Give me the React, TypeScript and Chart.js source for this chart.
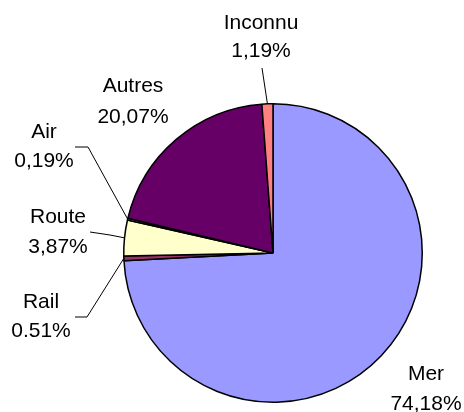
import React, { useEffect, useRef } from "react";
import { Chart, registerables } from "chart.js";

Chart.register(...registerables);

const categories = ["Mer", "Rail", "Route", "Air", "Autres", "Inconnu"];
const shares = [74.18, 0.51, 3.87, 0.19, 20.07, 1.19];
const valueLabels = ["74,18%", "0.51%", "3,87%", "0,19%", "20,07%", "1,19%"];
const colors = ["#9999FF", "#993366", "#FFFFCC", "#CCFFFF", "#660066", "#FF8080"];

// label layout, relative to the pie centre (px)
const labelDx = [153, -232, -215, -229, -140, -12];
const labelDy = [127, 55, -30, -115, -161, -224];
const lineGap = [30, 29, 30, 29, 31, 28];
const leaders: number[][][] = [
  [],
  [[-186, 64], [-198, 64]],
  [[-163, -18], [-183, -21]],
  [[-185, -106], [-198, -106]],
  [],
  [[-11, -185]],
];

const labelPlugin = {
  id: "pieLabels",
  afterDraw(chart: any) {
    const ctx = chart.ctx;
    const meta = chart.getDatasetMeta(0);
    ctx.save();
    ctx.font = "21px 'Liberation Sans', Arial, sans-serif";
    ctx.fillStyle = "#000";
    ctx.textAlign = "center";
    ctx.textBaseline = "alphabetic";
    ctx.strokeStyle = "#000";
    ctx.lineWidth = 1;
    meta.data.forEach((arc: any, i: number) => {
      const { x, y, startAngle, endAngle, outerRadius } = arc.getProps(
        ["x", "y", "startAngle", "endAngle", "outerRadius"],
        true
      );
      const mid = (startAngle + endAngle) / 2;
      const pts = leaders[i];
      if (pts.length) {
        ctx.beginPath();
        ctx.moveTo(x + Math.cos(mid) * outerRadius, y + Math.sin(mid) * outerRadius);
        pts.forEach((p) => ctx.lineTo(x + p[0], y + p[1]));
        ctx.stroke();
      }
      const tx = x + labelDx[i];
      const ty = y + labelDy[i];
      ctx.fillText(categories[i], tx, ty);
      ctx.fillText(valueLabels[i], tx, ty + lineGap[i]);
    });
    ctx.restore();
  },
};

export default function App() {
  const ref = useRef<HTMLCanvasElement>(null);
  useEffect(() => {
    if (!ref.current) return;
    const chart = new Chart(ref.current, {
      type: "pie",
      data: {
        labels: categories,
        datasets: [
          {
            data: shares,
            backgroundColor: colors,
            borderColor: "#000",
            borderWidth: 1.5,
          },
        ],
      },
      options: {
        responsive: false,
        animation: false,
        layout: { padding: { left: 123, right: 41, top: 103, bottom: 9 } },
        plugins: {
          legend: { display: false },
          tooltip: { enabled: false },
          title: { display: false },
        },
      },
      plugins: [labelPlugin],
    });
    return () => chart.destroy();
  }, []);
  return (
    <div style={{ position: "fixed", left: 0, top: 0, width: 464, height: 412, background: "#fff" }}>
      <canvas ref={ref} width={464} height={412} style={{ width: 464, height: 412 }} />
    </div>
  );
}
